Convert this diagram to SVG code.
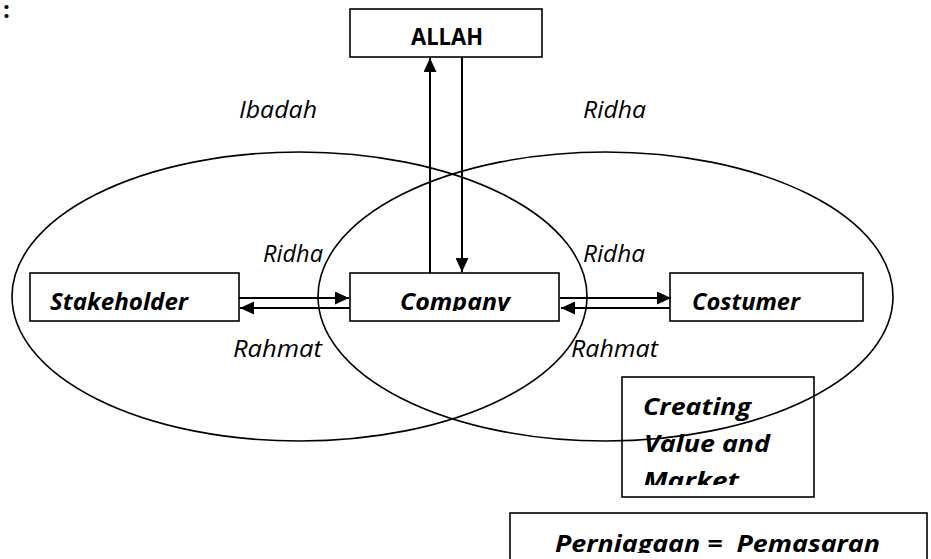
<svg xmlns="http://www.w3.org/2000/svg" width="931" height="559" viewBox="0 0 931 559">
<style>
.box{fill:none;stroke:#000;stroke-width:1.6}
.ell{fill:none;stroke:#000;stroke-width:1.6}
.ln{fill:none;stroke:#000;stroke-width:2}
text{font-family:"Open Sans","Noto Sans","DejaVu Sans",sans-serif;font-size:24px;fill:#000}
.b{font-weight:bold}
.i{font-style:italic}
</style>
<defs>
<marker id="ah" markerUnits="userSpaceOnUse" markerWidth="15" markerHeight="13" refX="14" refY="6.5" orient="auto">
<path d="M0,0 L14,6.5 L0,13 z" fill="#000"/>
</marker>
<clipPath id="cpCompany"><rect x="350" y="273" width="209" height="38"/></clipPath>
<clipPath id="cpCreating"><rect x="622" y="377" width="192" height="108"/></clipPath>
<clipPath id="cpPern"><rect x="510" y="513" width="417" height="40"/></clipPath>
</defs>
<text class="b" x="3" y="18" font-size="17">:</text>
<g id="ellipses">
<ellipse class="ell" cx="299.5" cy="296.5" rx="287.5" ry="144.5"/>
<ellipse class="ell" cx="605.5" cy="296.5" rx="287.5" ry="144.5"/>
</g>
<g id="connectors">
<line class="ln" x1="430" y1="273" x2="430" y2="58" marker-end="url(#ah)"/>
<line class="ln" x1="462" y1="57" x2="462" y2="272" marker-end="url(#ah)"/>
<line class="ln" x1="239" y1="298" x2="349" y2="298" marker-end="url(#ah)"/>
<line class="ln" x1="350" y1="308" x2="240" y2="308" marker-end="url(#ah)"/>
<line class="ln" x1="560" y1="298" x2="671" y2="298" marker-end="url(#ah)"/>
<line class="ln" x1="670" y1="308" x2="561" y2="308" marker-end="url(#ah)"/>
</g>
<g id="labels">
<text class="i" x="239" y="118" textLength="78" lengthAdjust="spacingAndGlyphs">Ibadah</text>
<text class="i" x="583" y="118" textLength="63" lengthAdjust="spacingAndGlyphs">Ridha</text>
<text class="i" x="263" y="262" textLength="60" lengthAdjust="spacingAndGlyphs">Ridha</text>
<text class="i" x="583" y="262" textLength="62" lengthAdjust="spacingAndGlyphs">Ridha</text>
<text class="i" x="233" y="357" textLength="89" lengthAdjust="spacingAndGlyphs">Rahmat</text>
<text class="i" x="571" y="357" textLength="87" lengthAdjust="spacingAndGlyphs">Rahmat</text>
</g>
<g id="allah">
<rect class="box" x="350" y="9" width="192" height="48"/>
<text class="b" x="411" y="45" textLength="72" lengthAdjust="spacingAndGlyphs">ALLAH</text>
</g>
<g id="stakeholder">
<rect class="box" x="30" y="273" width="209" height="48"/>
<text class="b i" x="50" y="310" textLength="138" lengthAdjust="spacingAndGlyphs">Stakeholder</text>
</g>
<g id="company">
<rect class="box" x="350" y="273" width="209" height="48"/>
<text class="b i" x="400" y="310" textLength="110" lengthAdjust="spacingAndGlyphs" clip-path="url(#cpCompany)">Company</text>
</g>
<g id="costumer">
<rect class="box" x="670" y="273" width="193" height="48"/>
<text class="b i" x="692" y="310" textLength="108" lengthAdjust="spacingAndGlyphs">Costumer</text>
</g>
<g id="creating">
<rect class="box" x="622" y="377" width="192" height="120"/>
<g clip-path="url(#cpCreating)">
<text class="b i" x="643" y="415" textLength="108" lengthAdjust="spacingAndGlyphs">Creating</text>
<text class="b i" x="644" y="452" textLength="126" lengthAdjust="spacingAndGlyphs">Value and</text>
<text class="b i" x="643" y="489" textLength="96" lengthAdjust="spacingAndGlyphs">Market</text>
</g>
</g>
<g id="perniagaan">
<rect class="box" x="510" y="513" width="417" height="60"/>
<text class="b i" x="555" y="552" textLength="325" lengthAdjust="spacingAndGlyphs" clip-path="url(#cpPern)" xml:space="preserve">Perniagaan =  Pemasaran</text>
</g>
</svg>
